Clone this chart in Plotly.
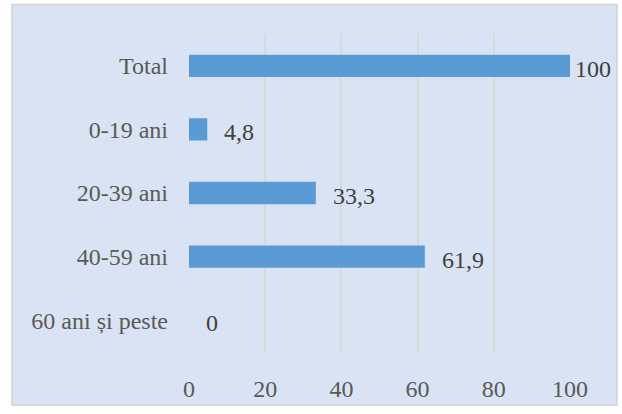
import plotly.graph_objects as go

categories = ["Total", "0-19 ani", "20-39 ani", "40-59 ani", "60 ani și peste"]
values = [100, 4.8, 33.3, 61.9, 0]
value_labels = ["100", "4,8", "33,3", "61,9", "0"]
x_ticks = [0, 20, 40, 60, 80, 100]

bg = "#DAE3F3"
bar_color = "#5B9BD5"
text_color = "#595959"
font_family = "Liberation Serif"

fig = go.Figure()
fig.add_trace(go.Bar(
    y=categories,
    x=values,
    orientation="h",
    marker=dict(color=bar_color, line=dict(width=0)),
    width=0.35,
    hoverinfo="skip",
))

# value labels just past the bar ends
for cat, val, lab in zip(categories, values, value_labels):
    fig.add_annotation(x=val, y=cat, text=lab, showarrow=False,
                       xanchor="left", yanchor="middle",
                       xshift=3 if val >= 100 else 15, yshift=-3,
                       font=dict(family=font_family, size=24, color="#404040"))

# chart area with border (plot area spans px 189-570 x, 34-357 y)
L, R, T, B = 189, 570, 34, 357
def px_x(p):
    return (p - L) / (R - L)
def px_y(p):
    return (B - p) / (B - T)

fig.add_shape(type="rect", xref="paper", yref="paper", layer="below",
              x0=px_x(12), x1=px_x(617), y0=px_y(411), y1=px_y(4),
              fillcolor=bg, line=dict(color="#D4D4D4", width=1.5))

fig.update_layout(
    width=622, height=414,
    margin=dict(l=L, r=622 - R, t=T, b=414 - B),
    paper_bgcolor="white",
    plot_bgcolor="rgba(0,0,0,0)",
    font=dict(family=font_family, size=24, color=text_color),
    showlegend=False,
)
fig.update_xaxes(range=[0, 100], tickvals=x_ticks, showgrid=True,
                 gridcolor="#D9D9DC", gridwidth=1.5, zeroline=False,
                 showline=False, ticks="", ticklabelstandoff=20)
fig.update_yaxes(categoryorder="array", categoryarray=categories,
                 autorange="reversed", showgrid=False, showline=False,
                 ticks="", ticklabelstandoff=20)

fig.write_html("out.html", config={"displayModeBar": False},
               post_script="document.body.style.margin='0';")
